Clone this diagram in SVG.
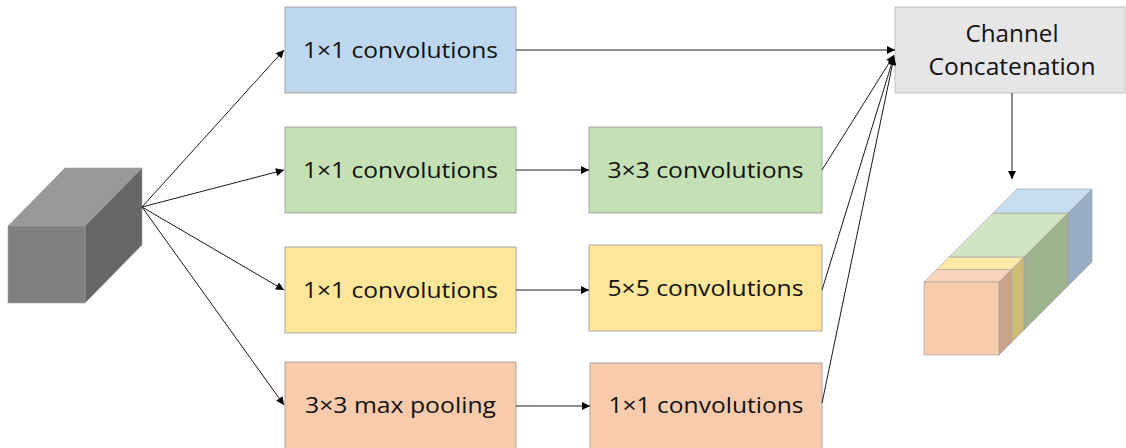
<svg xmlns="http://www.w3.org/2000/svg" width="1126" height="448" viewBox="0 0 1126 448">
<style>
.box{stroke:#a6a6a6;stroke-width:1}
.lbl{font-family:"Open Sans","Liberation Sans",Arial,sans-serif;font-size:22px;fill:#111;text-anchor:middle}
.big{font-size:23px}
.conn line{stroke:#1a1a1a;stroke-width:1;fill:none;marker-end:url(#ah)}
.cube polygon{stroke:#a0a0a0;stroke-width:0.6}
</style>
<defs>
<marker id="ah" viewBox="0 0 10 10" refX="10" refY="5" markerWidth="9" markerHeight="8" markerUnits="userSpaceOnUse" orient="auto">
<path d="M0,0 L10,5 L0,10 z" fill="#000"/>
</marker>
</defs>
<rect width="1126" height="448" fill="#fff"/>

<g id="input-cube" class="cube">
<polygon points="8,226 65,168 142,168 85,226" fill="#999999"/>
<polygon points="85,226 142,168 142,245 85,303" fill="#666666"/>
<polygon points="8,226 85,226 85,303 8,303" fill="#808080"/>
</g>

<g id="b1-conv1">
<rect class="box" x="285" y="7" width="231" height="86" fill="#bdd7ee"/>
<text class="lbl" x="400.5" y="58" textLength="195" lengthAdjust="spacingAndGlyphs">1×1 convolutions</text>
</g>
<g id="b2-conv1">
<rect class="box" x="285" y="127" width="231" height="86" fill="#c5e0b4"/>
<text class="lbl" x="400.5" y="178" textLength="195" lengthAdjust="spacingAndGlyphs">1×1 convolutions</text>
</g>
<g id="b2-conv3">
<rect class="box" x="589" y="127" width="233" height="86" fill="#c5e0b4"/>
<text class="lbl" x="705.5" y="178" textLength="196" lengthAdjust="spacingAndGlyphs">3×3 convolutions</text>
</g>
<g id="b3-conv1">
<rect class="box" x="285" y="247" width="231" height="86" fill="#ffe699"/>
<text class="lbl" x="400.5" y="298" textLength="195" lengthAdjust="spacingAndGlyphs">1×1 convolutions</text>
</g>
<g id="b3-conv5">
<rect class="box" x="589" y="245" width="233" height="86" fill="#ffe699"/>
<text class="lbl" x="705.5" y="296" textLength="196" lengthAdjust="spacingAndGlyphs">5×5 convolutions</text>
</g>
<g id="b4-pool">
<rect class="box" x="285" y="362" width="231" height="90" fill="#f8cbad"/>
<text class="lbl" x="400.5" y="413" textLength="191" lengthAdjust="spacingAndGlyphs">3×3 max pooling</text>
</g>
<g id="b4-conv1">
<rect class="box" x="590" y="363" width="232" height="90" fill="#f8cbad"/>
<text class="lbl" x="706" y="413" textLength="195" lengthAdjust="spacingAndGlyphs">1×1 convolutions</text>
</g>
<g id="concat">
<rect x="895" y="7" width="230" height="86" fill="#e7e6e6" stroke="#bfbfbf" stroke-width="1"/>
<text class="lbl big" x="1012" y="42" textLength="93" lengthAdjust="spacingAndGlyphs">Channel</text>
<text class="lbl big" x="1012" y="75" textLength="167" lengthAdjust="spacingAndGlyphs">Concatenation</text>
</g>

<g id="output-cube" class="cube">
<polygon points="924,282 999,282 1011.5,269.5 936.5,269.5" fill="#f9d5bd"/>
<polygon points="936.5,269.5 1011.5,269.5 1024,257 949,257" fill="#fee9a8"/>
<polygon points="949,257 1024,257 1068,213 993,213" fill="#d1e5c4"/>
<polygon points="993,213 1068,213 1092,189 1017,189" fill="#c8ddf0"/>
<polygon points="1068,213 1092,189 1092,262 1068,286" fill="#97adc3"/>
<polygon points="1024,257 1068,213 1068,286 1024,330" fill="#9fb38f"/>
<polygon points="1011.5,269.5 1024,257 1024,330 1011.5,342.5" fill="#cfba76"/>
<polygon points="999,282 1011.5,269.5 1011.5,342.5 999,355" fill="#c9a48b"/>
<polygon points="924,282 999,282 999,355 924,355" fill="#f8cbad"/>
</g>

<g id="connectors" class="conn">
<line x1="142" y1="207" x2="284" y2="50"/>
<line x1="142" y1="207" x2="284" y2="170"/>
<line x1="142" y1="207" x2="284" y2="290"/>
<line x1="142" y1="207" x2="284" y2="405"/>
<line x1="516" y1="170" x2="589" y2="170"/>
<line x1="516" y1="290" x2="589" y2="290"/>
<line x1="516" y1="406" x2="590" y2="406"/>
<line x1="516" y1="50" x2="895" y2="50"/>
<line x1="822" y1="170" x2="894" y2="55"/>
<line x1="822" y1="290" x2="894" y2="56"/>
<line x1="822" y1="403" x2="894" y2="57"/>
<line x1="1012" y1="93" x2="1012" y2="179"/>
</g>
</svg>
